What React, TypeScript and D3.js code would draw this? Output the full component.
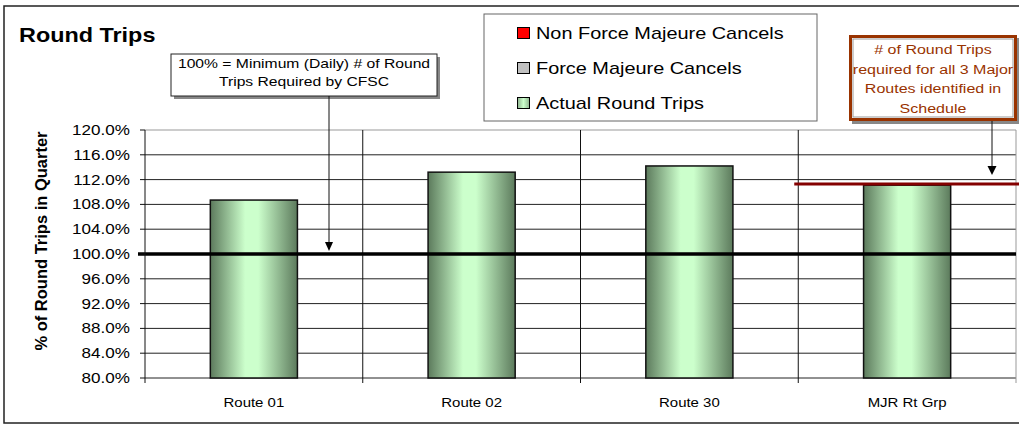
import React from 'react';
import * as d3 from 'd3';

const categories = ['Route 01', 'Route 02', 'Route 30', 'MJR Rt Grp'];
const actualTrips = [108.7, 113.2, 114.2, 111.1];
const nonForceMajeure = [0, 0, 0, 0];
const forceMajeure = [0, 0, 0, 0];
const yTicks = [80, 84, 88, 92, 96, 100, 104, 108, 112, 116, 120];
const minimumLine = 100;
const majorRoutesRequired = 111.3;
const legendItems = ['Non Force Majeure Cancels', 'Force Majeure Cancels', 'Actual Round Trips'];
const noteLeft = ['100% = Minimum (Daily) # of Round', 'Trips Required by CFSC'];
const noteRight = ['# of Round Trips', 'required for all 3 Major', 'Routes identified in', 'Schedule'];

const W = 1019;
const H = 427;
const margin = { top: 130, right: 3, bottom: 49, left: 145 };
const FONT = 'Arial, "Liberation Sans", sans-serif';
// the original's text is a little wide, so stretch it sideways
const SX = 1.17;

type TProps = {
  x: number; y: number; size: number; anchor?: 'start' | 'middle' | 'end';
  bold?: boolean; fill?: string; children: React.ReactNode;
};
const T = ({ x, y, size, anchor = 'start', bold, fill = '#000', children }: TProps) => (
  <text transform={`translate(${x},${y}) scale(${SX},1)`} fontSize={size} textAnchor={anchor}
    fontWeight={bold ? 'bold' : 'normal'} fill={fill}>{children}</text>
);

export default function App() {
  const x = d3.scaleBand<string>()
    .domain(categories)
    .range([margin.left, W - margin.right])
    .padding(0);
  const y = d3.scaleLinear()
    .domain([80, 120])
    .range([H - margin.bottom, margin.top]);

  const bw = x.bandwidth() * 0.4;
  const plotRight = W - margin.right;
  const bottom = y(80);
  const legendColors = ['#ff0000', '#c0c0c0', 'url(#legendGreen)'];

  const lastCat = categories[categories.length - 1];
  const arrowLX = 329;
  const arrowRX = 992;

  return (
    <svg width={W} height={H} style={{ position: 'absolute', left: 0, top: 0 }} fontFamily={FONT}>
      <defs>
        <linearGradient id="barGrad" x1="0" x2="1" y1="0" y2="0">
          <stop offset="0%" stopColor="#5c7a5c" />
          <stop offset="40%" stopColor="#ccffcc" />
          <stop offset="55%" stopColor="#ccffcc" />
          <stop offset="100%" stopColor="#5c7a5c" />
        </linearGradient>
        <linearGradient id="legendGreen" x1="0" x2="1" y1="0" y2="0">
          <stop offset="0%" stopColor="#8fb38f" />
          <stop offset="50%" stopColor="#ccffcc" />
          <stop offset="100%" stopColor="#8fb38f" />
        </linearGradient>
      </defs>
      <rect x={0} y={0} width={W} height={H} fill="#fff" />
      {/* outer frame */}
      <rect x={4} y={6} width={W + 10} height={417} fill="none" stroke="#222" strokeWidth={1.5} />

      <T x={19} y={42} size={20} bold>Round Trips</T>

      {/* grid */}
      {yTicks.map(t => (
        <line key={t} x1={margin.left} x2={plotRight} y1={y(t)} y2={y(t)}
          stroke={t === 120 ? '#999' : '#222'} strokeWidth={1} />
      ))}
      {categories.slice(1).map(c => (
        <line key={c} x1={x(c)!} x2={x(c)!} y1={margin.top} y2={bottom + 5} stroke="#111" strokeWidth={1} />
      ))}
      <line x1={plotRight} x2={plotRight} y1={margin.top} y2={bottom + 5} stroke="#999" strokeWidth={1} />

      {/* bars */}
      {categories.map((c, i) => {
        const cx = x(c)! + x.bandwidth() / 2;
        const base = actualTrips[i];
        return (
          <g key={c}>
            <rect x={cx - bw / 2} y={y(base)} width={bw} height={bottom - y(base)}
              fill="url(#barGrad)" stroke="#111" strokeWidth={1.5} />
            {forceMajeure[i] > 0 && (
              <rect x={cx - bw / 2} y={y(base + forceMajeure[i])} width={bw}
                height={y(base) - y(base + forceMajeure[i])} fill="#c0c0c0" stroke="#111" />
            )}
            {nonForceMajeure[i] > 0 && (
              <rect x={cx - bw / 2} y={y(base + forceMajeure[i] + nonForceMajeure[i])} width={bw}
                height={y(base + forceMajeure[i]) - y(base + forceMajeure[i] + nonForceMajeure[i])} fill="#ff0000" stroke="#111" />
            )}
          </g>
        );
      })}

      {/* reference lines */}
      <line x1={margin.left - 7} x2={plotRight} y1={y(minimumLine)} y2={y(minimumLine)} stroke="#000" strokeWidth={3.5} />
      <line x1={x(lastCat)! - 4} x2={W} y1={y(majorRoutesRequired)} y2={y(majorRoutesRequired)} stroke="#840000" strokeWidth={3} />

      {/* y axis */}
      <line x1={margin.left} x2={margin.left} y1={margin.top} y2={bottom + 5} stroke="#111" strokeWidth={1} />
      {yTicks.map(t => (
        <g key={'l' + t}>
          <line x1={margin.left - 5} x2={margin.left} y1={y(t)} y2={y(t)} stroke="#111" />
          <T x={130} y={y(t) + 5} size={14.6} anchor="end">{t.toFixed(1)}%</T>
        </g>
      ))}
      <text transform={`translate(47,${(margin.top + bottom) / 2 - 13}) rotate(-90)`} fontSize={16.5} fontWeight="bold" textAnchor="middle">% of Round Trips in Quarter</text>

      {/* x axis labels */}
      {categories.map(c => (
        <T key={'x' + c} x={x(c)! + x.bandwidth() / 2} y={407} size={12.8} anchor="middle">{c}</T>
      ))}

      {/* legend */}
      <rect x={484} y={14} width={333} height={107} fill="#fff" stroke="#666" strokeWidth={1} />
      {legendItems.map((l, i) => (
        <g key={l}>
          <rect x={517.5} y={27.5 + i * 35} width={12} height={11} fill={legendColors[i]} stroke="#000" strokeWidth={1} />
          <T x={536} y={39 + i * 35} size={17}>{l}</T>
        </g>
      ))}

      {/* left note */}
      <rect x={174} y={57} width={266} height={42} fill="#888" />
      <rect x={171} y={54} width={266} height={42} fill="#fff" stroke="#222" strokeWidth={1} />
      {noteLeft.map((t, i) => (
        <T key={t} x={304} y={68 + i * 18} size={13.4} anchor="middle">{t}</T>
      ))}
      <line x1={arrowLX} x2={arrowLX} y1={96} y2={243} stroke="#111" strokeWidth={1} />
      <path d={`M${arrowLX - 4},242 L${arrowLX + 4},242 L${arrowLX},251 Z`} fill="#000" />

      {/* right note */}
      <rect x={852} y={38} width={168} height={86} fill="#888" />
      <rect x={850.5} y={36.5} width={165} height={83} fill="#fff" stroke="#993300" strokeWidth={3} />
      <rect x={853} y={39} width={160} height={78} fill="none" stroke="#999" strokeWidth={1} />
      {noteRight.map((t, i) => (
        <T key={t} x={933} y={54 + i * 19.6} size={13.7} anchor="middle" fill="#993300">{t}</T>
      ))}
      <line x1={arrowRX} x2={arrowRX} y1={121} y2={167} stroke="#111" strokeWidth={1} />
      <path d={`M${arrowRX - 4.5},166 L${arrowRX + 4.5},166 L${arrowRX},175 Z`} fill="#000" />
    </svg>
  );
}
